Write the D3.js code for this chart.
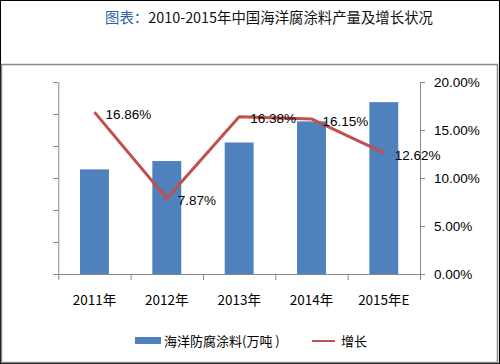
<!DOCTYPE html>
<html>
<head>
<meta charset="utf-8">
<script src="https://cdn.jsdelivr.net/npm/d3@7"></script>
<style>
  body { margin: 0; background: #fff; }
  svg { display: block; font-family: "Liberation Sans", Arial, sans-serif; }
  .axis path, .axis line { stroke: #868686; }
</style>
</head>
<body>
<svg width="500" height="364"></svg>
<script>
// data
const years = ["2011年", "2012年", "2013年", "2014年", "2015年E"];
const output = [32.7, 35.3, 41.1, 47.7, 53.7];      // 海洋防腐涂料(万吨)
const growth = [16.86, 7.87, 16.38, 16.15, 12.62];  // 增长 %
const leftTicks = [0, 10, 20, 30, 40, 50, 60];
const rightTicks = [0, 5, 10, 15, 20];

const plot = { left: 58.3, right: 420, top: 82, bottom: 274 };

const svg = d3.select("svg");

// frames
svg.append("rect")
    .attr("x", 0.5).attr("y", 0.5).attr("width", 499).attr("height", 363)
    .attr("fill", "none").attr("stroke", "#000");
svg.append("rect")
    .attr("x", 1.5).attr("y", 64.5).attr("width", 496).attr("height", 298)
    .attr("fill", "#fff").attr("stroke", "#8a8a8a").attr("stroke-width", 1.5);

// title
const title = svg.append("text")
    .attr("x", 105).attr("y", 23)
    .style("font-family", "'Noto Sans CJK SC', sans-serif")
    .style("font-size", "14.4px");
title.append("tspan").attr("fill", "#2f5fa5").text("图表：");
title.append("tspan").attr("fill", "#111").text("2010-2015年中国海洋腐涂料产量及增长状况");

// scales
const x = d3.scaleBand()
    .domain(years)
    .range([plot.left, plot.right])
    .paddingInner(0.6)
    .paddingOuter(0.3);

const xEdge = d3.scaleLinear().domain([0, years.length]).range([plot.left, plot.right]);

const yL = d3.scaleLinear().domain([0, 60]).range([plot.bottom, plot.top]);
const yR = d3.scaleLinear().domain([0, 20]).range([plot.bottom, plot.top]);

// left axis (no labels)
svg.append("g")
    .attr("class", "axis")
    .attr("transform", "translate(" + plot.left + ",0)")
    .call(d3.axisLeft(yL).tickValues(leftTicks).tickSize(5).tickSizeOuter(0).tickFormat(""));

// right axis
svg.append("g")
    .attr("class", "axis")
    .attr("transform", "translate(" + plot.right + ",0)")
    .call(d3.axisRight(yR).tickValues(rightTicks).tickSize(5).tickSizeOuter(0).tickPadding(9)
        .tickFormat(d => d.toFixed(2) + "%"))
    .call(g => g.selectAll("text").attr("fill", "#000").style("font-size", "13.5px"));

// bottom axis: edge ticks + centered labels
svg.append("g")
    .attr("class", "axis")
    .attr("transform", "translate(0," + plot.bottom + ")")
    .call(d3.axisBottom(xEdge).tickValues(d3.range(years.length + 1)).tickSize(6).tickSizeOuter(0).tickFormat(""));

svg.append("g")
    .attr("transform", "translate(0," + plot.bottom + ")")
    .call(d3.axisBottom(x).tickSize(0).tickPadding(21))
    .call(g => g.select(".domain").remove())
    .call(g => g.selectAll("text").attr("fill", "#000")
        .style("font-family", "'Noto Sans CJK SC', sans-serif").style("font-size", "13.5px"));

// bars
svg.selectAll(".bar")
    .data(output)
    .enter()
    .append("rect")
        .attr("class", "bar")
        .attr("x", (d, i) => x(years[i]))
        .attr("y", d => yL(d))
        .attr("width", x.bandwidth())
        .attr("height", d => plot.bottom - yL(d))
        .attr("fill", "#4f81bd");

// growth line
const line = d3.line()
    .x((d, i) => x(years[i]) + x.bandwidth() / 2)
    .y(d => yR(d));

svg.append("path")
    .datum(growth)
    .attr("d", line)
    .attr("fill", "none")
    .attr("stroke", "#c0504d")
    .attr("stroke-width", 3)
    .attr("stroke-linejoin", "round");

// data labels
svg.selectAll(".lbl")
    .data(growth)
    .enter()
    .append("text")
        .attr("class", "lbl")
        .attr("x", (d, i) => x(years[i]) + x.bandwidth() / 2 + 11)
        .attr("y", d => yR(d) + 2)
        .attr("dy", "0.35em")
        .style("font-size", "13.5px")
        .attr("fill", "#000")
        .text(d => d.toFixed(2) + "%");

// legend
const legend = svg.append("g").style("font-family", "'Noto Sans CJK SC', sans-serif").style("font-size", "13px");
legend.append("rect").attr("x", 135).attr("y", 337).attr("width", 26).attr("height", 7).attr("fill", "#4f81bd");
legend.append("text").attr("x", 164).attr("y", 341.5).attr("dy", "0.35em").text("海洋防腐涂料(万吨 )");
legend.append("line").attr("x1", 312).attr("x2", 335).attr("y1", 341).attr("y2", 341)
    .attr("stroke", "#c0504d").attr("stroke-width", 2);
legend.append("text").attr("x", 341).attr("y", 341.5).attr("dy", "0.35em").text("增长");
</script>
</body>
</html>
